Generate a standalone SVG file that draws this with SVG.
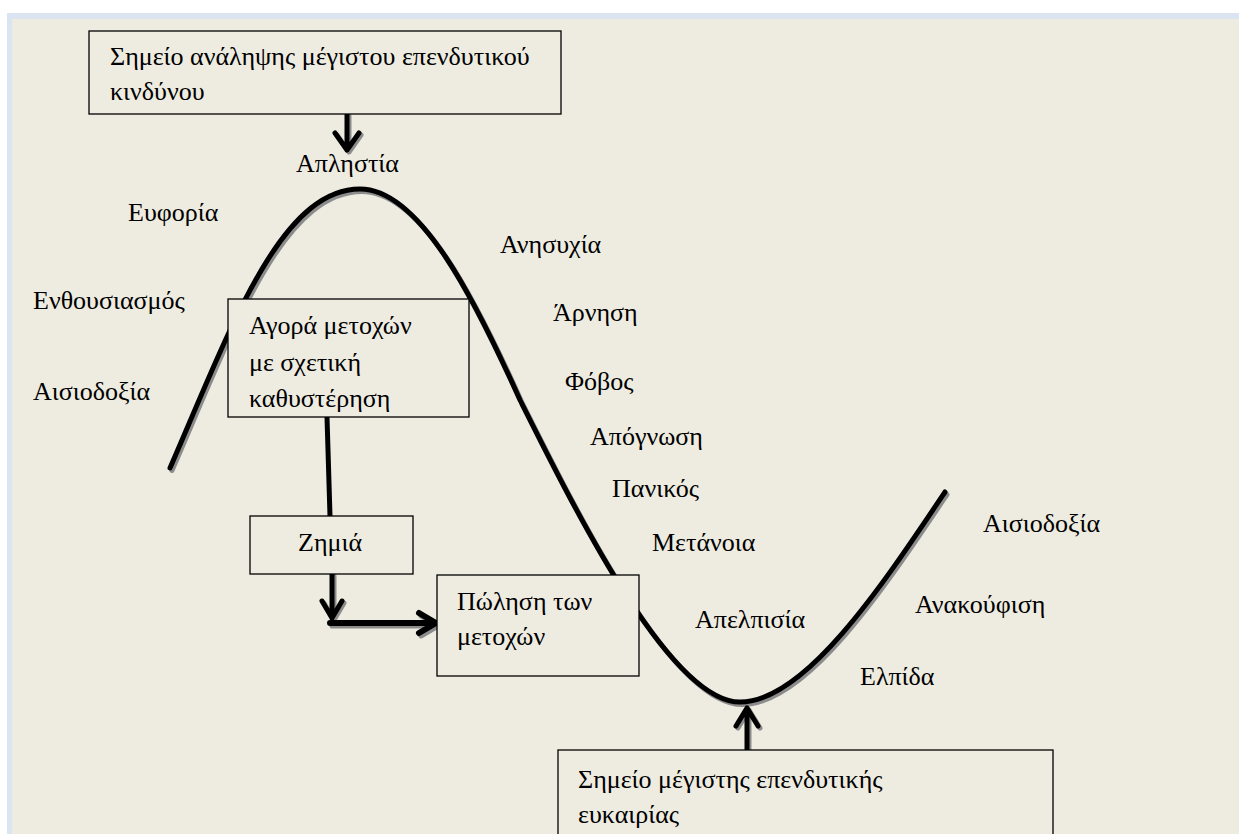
<svg xmlns="http://www.w3.org/2000/svg" width="1239" height="834" viewBox="0 0 1239 834">
<defs>
<style>
text{font-family:"Liberation Serif","Times New Roman",serif;fill:#000}
.lb{font-size:26px}
.bt{font-size:26px}
.box{fill:#eeece1;stroke:#000;stroke-width:1.3}
.ln{fill:none;stroke:#000;stroke-width:5;stroke-linecap:round;stroke-linejoin:round}
.sh{fill:none;stroke:#8c8c8c;stroke-width:5;stroke-linecap:round;stroke-linejoin:round}
</style>
</defs>
<rect x="0" y="0" width="1239" height="834" fill="#ffffff"/>
<rect x="7" y="13" width="1232" height="821" fill="#dbe5f1"/>
<rect x="12" y="19" width="1227" height="815" fill="#eeece1"/>

<g id="curve">
<path class="sh" transform="translate(2,2.5)" d="M170,468 C230,330 280,189 360,189 C420,189 475,300 520,400 C575,510 670,702 740,702 C805,702 882,586 945,492"/>
<path class="ln" d="M170,468 C230,330 280,189 360,189 C420,189 475,300 520,400 C575,510 670,702 740,702 C805,702 882,586 945,492"/>
</g>

<g id="labels">
<text class="lb" x="296" y="172">Απληστία</text>
<text class="lb" x="128" y="221">Ευφορία</text>
<text class="lb" x="33" y="309">Ενθουσιασμός</text>
<text class="lb" x="33" y="400">Αισιοδοξία</text>
<text class="lb" x="500" y="253">Ανησυχία</text>
<text class="lb" x="553" y="321">Άρνηση</text>
<text class="lb" x="565" y="390">Φόβος</text>
<text class="lb" x="590" y="445">Απόγνωση</text>
<text class="lb" x="612" y="497">Πανικός</text>
<text class="lb" x="652" y="551">Μετάνοια</text>
<text class="lb" x="695" y="628">Απελπισία</text>
<text class="lb" x="860" y="685">Ελπίδα</text>
<text class="lb" x="915" y="613">Ανακούφιση</text>
<text class="lb" x="983" y="532">Αισιοδοξία</text>
</g>

<g id="connectors">
<path class="sh" transform="translate(2,2)" d="M347,114 V150 M335,133 L347,150 L359,133"/>
<path class="ln" d="M347,114 V150 M335,133 L347,150 L359,133"/>
<path class="ln" d="M327,417 L330,516"/>
<path class="sh" transform="translate(2,2)" d="M332,574 V618 M322,601 L332,618 L342,601"/>
<path class="ln" d="M332,574 V618 M322,601 L332,618 L342,601"/>
<path class="sh" transform="translate(2,3)" d="M330,623 H436 M419,613 L436,623 L419,633"/>
<path class="ln" style="stroke-width:6" d="M330,623 H436 M419,613 L436,623 L419,633"/>
<path class="sh" transform="translate(2,2)" d="M747,750 V708 M736,726 L747,708 L758,726"/>
<path class="ln" d="M747,750 V708 M736,726 L747,708 L758,726"/>
</g>

<g id="box-risk">
<rect class="box" x="89" y="31" width="472" height="83"/>
<text class="bt" x="110" y="65">Σημείο ανάληψης μέγιστου επενδυτικού</text>
<text class="bt" x="110" y="100">κινδύνου</text>
</g>

<g id="box-buy">
<rect class="box" x="228" y="299" width="241" height="118"/>
<text class="bt" x="249" y="334">Αγορά μετοχών</text>
<text class="bt" x="249" y="371">με σχετική</text>
<text class="bt" x="249" y="407">καθυστέρηση</text>
</g>

<g id="box-loss">
<rect class="box" x="250" y="516" width="163" height="58"/>
<text class="bt" x="298" y="551">Ζημιά</text>
</g>

<g id="box-sell">
<rect class="box" x="437" y="575" width="202" height="101"/>
<text class="bt" x="457" y="610">Πώληση των</text>
<text class="bt" x="457" y="645">μετοχών</text>
</g>

<g id="box-opportunity">
<rect class="box" x="558" y="750" width="495" height="100"/>
<text class="bt" x="578" y="788">Σημείο μέγιστης επενδυτικής</text>
<text class="bt" x="578" y="823">ευκαιρίας</text>
</g>
</svg>
